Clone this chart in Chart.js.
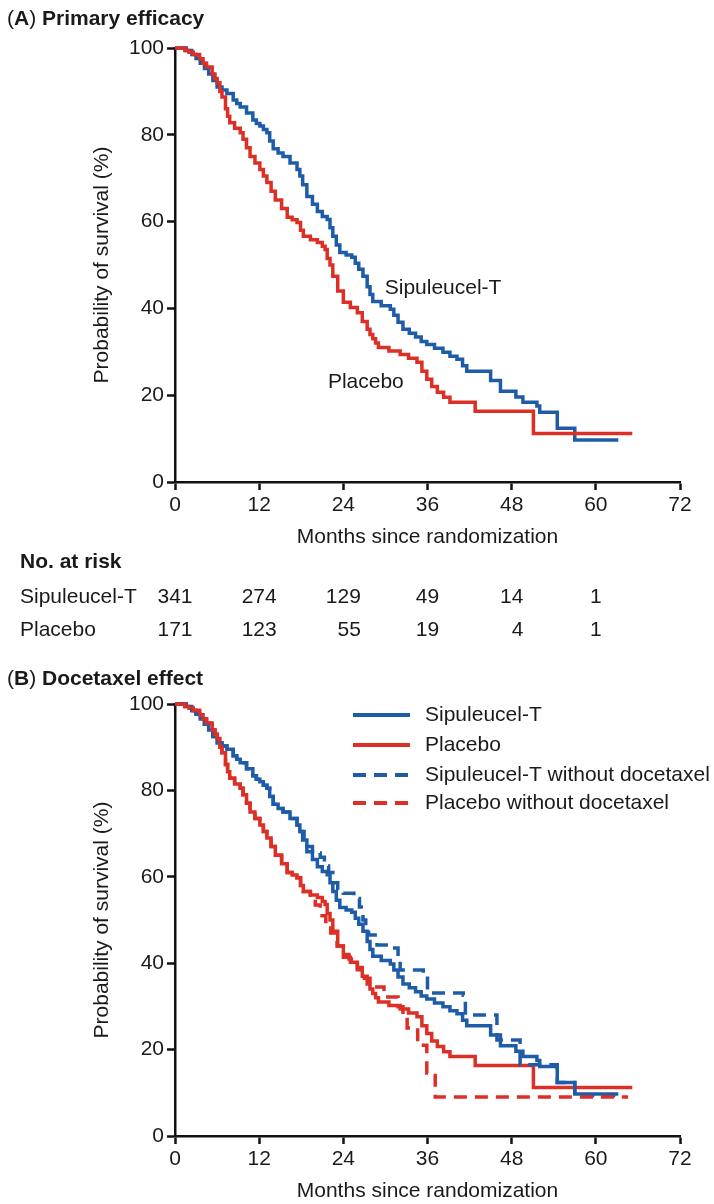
<!DOCTYPE html>
<html><head><meta charset="utf-8">
<script src="https://cdn.jsdelivr.net/npm/chart.js@4/dist/chart.umd.min.js"></script>
<style>
html,body{margin:0;padding:0;background:#fff;}
body{width:714px;height:1204px;position:relative;overflow:hidden;font-family:'Liberation Sans',Arial,Helvetica,sans-serif;color:#1a1a1a;}
.ttl{position:absolute;left:7px;font-size:21px;font-weight:bold;line-height:24px;white-space:nowrap;}
.ttl .p{font-weight:normal;}
#wa{position:absolute;left:0;top:0;width:714px;height:650px;}
#wb{position:absolute;left:0;top:650px;width:714px;height:554px;}
canvas{display:block;}
</style></head><body>
<div id="wa"><canvas id="ca" width="714" height="650"></canvas></div>
<div id="wb"><canvas id="cb" width="714" height="554"></canvas></div>
<div class="ttl" style="top:6px"><span class="p">(</span>A<span class="p">)</span> Primary efficacy</div>
<div class="ttl" style="top:666px"><span class="p">(</span>B<span class="p">)</span> Docetaxel effect</div>
<script>
// ---------- data ----------
const xTicks = [0, 12, 24, 36, 48, 60, 72];
const yTicks = [0, 20, 40, 60, 80, 100];
const xTitle = 'Months since randomization';
const yTitle = 'Probability of survival (%)';
const seriesNames = ['Sipuleucel-T', 'Placebo', 'Sipuleucel-T without docetaxel', 'Placebo without docetaxel'];

const sipMonths = [0,1.6,2.4,3.0,3.6,4.2,4.8,5.4,6.0,6.7,7.4,8.3,8.8,9.3,10.2,11.1,11.6,12.1,12.6,13.1,13.5,14.0,14.7,15.4,16.4,17.4,17.8,18.2,18.8,19.6,20.3,21.0,21.7,22.1,22.5,23.0,23.5,24.4,25.2,25.7,26.2,26.8,27.4,27.8,28.2,29.4,30.7,31.2,31.8,32.5,33.4,34.3,35.1,35.9,37.0,38.2,39.2,40.2,41.0,41.6,45.0,46.4,48.6,49.6,51.6,52.0,54.5,57.0,63.2];
const sipSurv   = [100,99.4,98.5,97.6,96.5,95.3,94.0,92.5,91.0,90.3,89.5,88.0,87.2,86.4,85.0,83.4,82.6,82.0,81.2,80.5,78.6,76.8,75.8,75.0,73.5,72.0,70.5,68.5,65.8,64.0,62.3,61.2,60.5,58.6,56.6,54.6,52.9,52.3,51.8,50.4,49.0,47.4,45.0,43.2,41.6,40.6,39.8,38.4,36.8,35.2,34.3,33.4,32.4,31.7,30.8,29.9,29.0,28.3,26.8,25.5,23.4,20.9,19.6,18.4,17.5,16.1,12.4,9.7,9.7];

const plaMonths = [0,1.4,2.0,2.6,3.5,4.0,4.5,5.3,5.7,6.0,6.4,6.7,7.2,7.5,7.8,8.5,9.3,9.7,10.2,10.7,11.4,12.1,12.6,13.1,13.7,14.3,15.2,16.0,16.7,17.4,17.9,18.3,19.3,20.3,21.0,21.4,21.7,22.1,22.5,23.2,24.0,25.0,26.0,26.7,27.4,27.8,28.2,28.6,29.0,30.5,32.1,33.3,34.5,35.2,35.9,36.6,37.4,38.3,39.2,42.8,51.1,65.2];
const plaSurv   = [100,99.4,99.0,98.5,97.5,96.5,95.6,94.0,93.0,92.0,90.0,88.7,86.0,84.3,82.8,81.5,80.5,79.0,77.0,75.0,73.5,72.0,70.5,69.0,67.0,65.0,63.0,61.0,60.4,59.8,58.0,56.6,55.8,55.2,54.3,53.6,51.5,50.0,47.4,44.0,41.4,40.2,39.0,37.0,35.2,34.0,33.0,32.0,31.0,30.2,29.4,28.5,27.6,25.5,23.7,22.0,20.7,19.5,18.4,16.3,11.2,11.2];

const sipNoDocMonths = [0,1.6,2.4,3.0,3.6,4.2,4.8,5.4,6.0,6.7,7.4,8.3,8.8,9.3,10.2,11.1,11.6,12.1,12.6,13.1,13.5,14.0,14.7,15.4,16.4,17.4,17.9,18.4,18.8,19.6,20.7,21.3,21.9,22.5,23.2,24.0,25.5,26.3,26.8,27.2,27.6,28.8,30.7,31.8,32.1,35.4,36.0,41.1,41.4,45.9,49.2,54.5,57.0,63.5];
const sipNoDocSurv   = [100,99.4,98.5,97.6,96.5,95.3,94.0,92.5,91.0,90.3,89.5,88.0,87.2,86.4,85.0,83.4,82.6,82.0,81.2,80.5,78.6,76.8,75.8,75.0,73.5,72.0,70.5,68.5,67.0,65.5,64.5,62.5,61.0,58.6,57.0,56.2,55.0,53.0,50.0,48.0,46.5,44.2,43.5,41.4,38.4,37.7,33.1,32.6,28.0,22.2,16.5,12.4,9.3,9.3];

const plaNoDocMonths = [0,1.4,2.0,2.6,3.5,4.0,4.5,5.3,5.7,6.0,6.4,6.7,7.2,7.5,7.8,8.5,9.3,9.7,10.2,10.7,11.4,12.1,12.6,13.1,13.7,14.3,15.2,16.0,16.7,17.4,17.9,18.3,19.3,20.0,20.7,21.5,22.2,23.1,24.0,24.8,26.0,27.0,27.8,28.5,29.8,31.8,32.5,33.1,34.6,35.9,37.1,64.6];
const plaNoDocSurv   = [100,99.4,99.0,98.5,97.5,96.5,95.6,94.0,93.0,92.0,90.0,88.7,86.0,84.3,82.8,81.5,80.5,79.0,77.0,75.0,73.5,72.0,70.5,69.0,67.0,65.0,63.0,61.0,60.4,59.8,58.0,56.6,55.8,53.5,51.0,49.0,47.0,44.0,42.0,41.0,38.5,36.5,35.5,34.5,32.2,29.9,28.0,25.0,21.0,14.6,9.0,9.0];

const riskTitle = 'No. at risk';
const riskMonths = [0, 12, 24, 36, 48, 60];
const riskSip = [341, 274, 129, 49, 14, 1];
const riskPla = [171, 123, 55, 19, 4, 1];

// ---------- styles ----------
const TXT = '#1a1a1a';
const AXIS = '#111111';
const BLUE = '#1f5ca8';
const RED = '#dc2f26';
const DASH = [13, 8];
const LW = 3.5;

Chart.defaults.font.family = "'Liberation Sans', Arial, Helvetica, sans-serif";
Chart.defaults.font.size = 21;
Chart.defaults.color = TXT;

function pts(xs, ys) { return xs.map((x, i) => ({ x: x, y: ys[i] })); }

function ds(label, xs, ys, color, dashed, order) {
  return {
    label: label, data: pts(xs, ys), borderColor: color, backgroundColor: color,
    borderWidth: LW, borderDash: dashed ? DASH : [], stepped: 'before',
    pointRadius: 0, fill: false, clip: false, order: order,
    borderCapStyle: 'butt', borderJoinStyle: 'miter'
  };
}

function scalesCfg() {
  return {
    x: {
      type: 'linear', min: 0, max: 72,
      afterBuildTicks: s => { s.ticks = xTicks.map(v => ({ value: v })); },
      ticks: { color: TXT, font: { size: 21 }, padding: 3, maxRotation: 0, autoSkip: false },
      grid: { drawOnChartArea: false, drawTicks: true, tickLength: 8, tickWidth: 2.5, tickColor: AXIS },
      border: { display: true, color: AXIS, width: 2.5 },
      title: { display: true, text: xTitle, color: TXT, font: { size: 21 }, padding: { top: 0, bottom: 0 } },
      afterFit: s => { s.height = 68; }
    },
    y: {
      type: 'linear', min: 0, max: 100,
      afterBuildTicks: s => { s.ticks = yTicks.map(v => ({ value: v })); },
      ticks: { color: TXT, font: { size: 21 }, padding: 3, autoSkip: false },
      grid: { drawOnChartArea: false, drawTicks: true, tickLength: 8, tickWidth: 2.5, tickColor: AXIS },
      border: { display: true, color: AXIS, width: 2.5 },
      title: { display: true, text: yTitle, color: TXT, font: { size: 21 }, padding: { top: 90, bottom: 0 } },
      afterFit: s => { s.width = 175; }
    }
  };
}

// ---------- plugins ----------
const curveLabels = [
  { text: 'Sipuleucel-T', x: 29.9, y: 44.7 },
  { text: 'Placebo', x: 21.8, y: 23.0 }
];
const labelPlugin = {
  id: 'curveLabels',
  afterDatasetsDraw(chart) {
    const ctx = chart.ctx, xs = chart.scales.x, ys = chart.scales.y;
    ctx.save();
    ctx.font = "21px 'Liberation Sans', Arial, sans-serif";
    ctx.fillStyle = TXT; ctx.textAlign = 'left'; ctx.textBaseline = 'middle';
    curveLabels.forEach(l => ctx.fillText(l.text, xs.getPixelForValue(l.x), ys.getPixelForValue(l.y)));
    ctx.restore();
  }
};

const riskLayout = { left: 20, titleY: 562, rowY: [597, 630] };
const riskPlugin = {
  id: 'riskTable',
  afterDraw(chart) {
    const ctx = chart.ctx, xs = chart.scales.x;
    ctx.save();
    ctx.fillStyle = TXT; ctx.textBaseline = 'middle';
    ctx.font = "bold 21px 'Liberation Sans', Arial, sans-serif";
    ctx.textAlign = 'left';
    ctx.fillText(riskTitle, riskLayout.left, riskLayout.titleY);
    ctx.font = "21px 'Liberation Sans', Arial, sans-serif";
    ctx.fillText(seriesNames[0], riskLayout.left, riskLayout.rowY[0]);
    ctx.fillText(seriesNames[1], riskLayout.left, riskLayout.rowY[1]);
    ctx.textAlign = 'right';
    riskMonths.forEach((m, i) => {
      const cx = xs.getPixelForValue(m);
      const w = Math.max(ctx.measureText(String(riskSip[i])).width, ctx.measureText(String(riskPla[i])).width);
      ctx.fillText(String(riskSip[i]), cx + w / 2, riskLayout.rowY[0]);
      ctx.fillText(String(riskPla[i]), cx + w / 2, riskLayout.rowY[1]);
    });
    ctx.restore();
  }
};

const legendLayout = { x0: 353, x1: 410, textX: 425, rowY: [65, 95, 125, 153], lw: 4 };
const legendPlugin = {
  id: 'kmLegend',
  afterDraw(chart) {
    const ctx = chart.ctx;
    ctx.save();
    ctx.font = "21px 'Liberation Sans', Arial, sans-serif";
    ctx.textBaseline = 'middle'; ctx.textAlign = 'left';
    seriesNames.forEach((name, i) => {
      const d = chart.data.datasets.find(s => s.label === name);
      const y = legendLayout.rowY[i];
      ctx.strokeStyle = d.borderColor; ctx.lineWidth = legendLayout.lw;
      ctx.setLineDash(d.borderDash || []);
      ctx.beginPath(); ctx.moveTo(legendLayout.x0, y); ctx.lineTo(legendLayout.x1, y); ctx.stroke();
      ctx.setLineDash([]);
      ctx.fillStyle = TXT;
      ctx.fillText(name, legendLayout.textX, y);
    });
    ctx.restore();
  }
};

const baseOptions = (padTop, padBottom) => ({
  responsive: false, animation: false, devicePixelRatio: 1,
  layout: { padding: { top: padTop, right: 34, bottom: padBottom, left: 0 } },
  plugins: { legend: { display: false }, tooltip: { enabled: false } },
  elements: { point: { radius: 0 }, line: { tension: 0 } },
  scales: scalesCfg()
});

new Chart(document.getElementById('ca'), {
  type: 'line',
  data: { datasets: [
    ds(seriesNames[0], sipMonths, sipSurv, BLUE, false, 1),
    ds(seriesNames[1], plaMonths, plaSurv, RED, false, 0)
  ] },
  options: baseOptions(48, 100),
  plugins: [labelPlugin, riskPlugin]
});

new Chart(document.getElementById('cb'), {
  type: 'line',
  data: { datasets: [
    ds(seriesNames[0], sipMonths, sipSurv, BLUE, false, 3),
    ds(seriesNames[1], plaMonths, plaSurv, RED, false, 2),
    ds(seriesNames[2], sipNoDocMonths, sipNoDocSurv, BLUE, true, 1),
    ds(seriesNames[3], plaNoDocMonths, plaNoDocSurv, RED, true, 0)
  ] },
  options: baseOptions(54, 0),
  plugins: [legendPlugin]
});
</script>
</body></html>
